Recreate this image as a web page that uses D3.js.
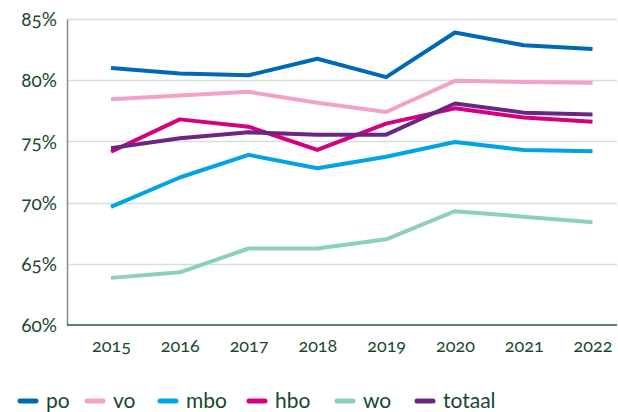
<!DOCTYPE html>
<html>
<head>
<meta charset="utf-8">
<script src="https://cdnjs.cloudflare.com/ajax/libs/d3/7.8.5/d3.min.js"></script>
<style>
    body { margin: 0; background: #fff; }
    svg text { font-family: Lato, "Open Sans", sans-serif; fill: #17482c; font-feature-settings: "onum" 1; font-variant-numeric: oldstyle-nums; }
</style>
</head>
<body>
<div id="chart"></div>
<script>

// jaren
let years = ['2015', '2016', '2017', '2018', '2019', '2020', '2021', '2022']

// aandelen per sector (%)
let po     = [81.0, 80.55, 80.4, 81.75, 80.25, 83.9, 82.85, 82.55]
let vo     = [78.45, 78.75, 79.05, 78.15, 77.4, 79.95, 79.85, 79.8]
let mbo    = [69.65, 72.05, 73.9, 72.8, 73.75, 74.95, 74.3, 74.2]
let hbo    = [74.15, 76.8, 76.2, 74.3, 76.45, 77.7, 76.95, 76.6]
let wo     = [63.85, 64.3, 66.25, 66.25, 67.0, 69.3, 68.85, 68.4]
let totaal = [74.45, 75.25, 75.75, 75.55, 75.55, 78.1, 77.35, 77.2]

let yTicks = [60, 65, 70, 75, 80, 85]

let series = [
    {name: 'po', values: po, color: '#0069b4'},
    {name: 'vo', values: vo, color: '#f2a1c7'},
    {name: 'mbo', values: mbo, color: '#00a3e4'},
    {name: 'hbo', values: hbo, color: '#d5007f'},
    {name: 'wo', values: wo, color: '#8bcfc1'},
    {name: 'totaal', values: totaal, color: '#6b2582'}
]

let width = 618, height = 412
let margin = {top: 19, right: 1, bottom: 87, left: 67}

let svg = d3.select('#chart').append('svg')
    .attr('width', width)
    .attr('height', height)

let x = d3.scalePoint()
    .domain(years)
    .range([111, 592.5])

let y = d3.scaleLinear()
    .domain([60, 85])
    .range([325, margin.top])

// gridlines
svg.append('g')
    .selectAll('line')
    .data(yTicks.filter(d => d > 60))
    .enter().append('line')
    .attr('x1', margin.left)
    .attr('x2', width - margin.right)
    .attr('y1', d => Math.round(y(d)) + 0.5)
    .attr('y2', d => Math.round(y(d)) + 0.5)
    .attr('stroke', '#d6dfdd')
    .attr('stroke-width', 1.5)

// y axis
let yAxis = svg.append('g')
    .attr('transform', `translate(${margin.left}, 0)`)
    .call(d3.axisLeft(y).tickValues(yTicks).tickSize(0).tickPadding(10).tickFormat(d => d + '%'))
yAxis.select('.domain').attr('stroke', '#8a8a8a').attr('stroke-width', 1.5)
yAxis.selectAll('text').style('font-size', '19px').attr('dy', '0.35em')

// x axis
let xAxis = svg.append('g')
    .attr('transform', `translate(0, ${y(60)})`)
    .call(d3.axisBottom(x).tickSize(0).tickPadding(14))
xAxis.select('.domain')
    .attr('d', `M${margin.left},0H${width - margin.right}`)
    .attr('stroke', '#275a3c')
    .attr('stroke-width', 1.5)
xAxis.selectAll('text').style('font-size', '18px')

// lines
let line = d3.line()
    .x((d, i) => x(years[i]))
    .y(d => y(d))

svg.append('g')
    .selectAll('path')
    .data(series)
    .enter().append('path')
    .attr('d', d => line(d.values))
    .attr('fill', 'none')
    .attr('stroke', d => d.color)
    .attr('stroke-width', 4)
    .attr('stroke-linejoin', 'round')

// legend
let legendX = [18, 85, 158, 247, 335, 415]
let legend = svg.append('g')
    .attr('class', 'legend')
    .selectAll('g')
    .data(series)
    .enter().append('g')
    .attr('transform', (d, i) => `translate(${legendX[i]}, 401)`)

legend.append('line')
    .attr('x1', 2).attr('x2', 18)
    .attr('stroke', d => d.color)
    .attr('stroke-width', 5)
    .attr('stroke-linecap', 'round')

legend.append('text')
    .attr('x', 28)
    .attr('dy', '0.32em')
    .style('font-size', '21px')
    .text(d => d.name)

</script>
</body>
</html>
